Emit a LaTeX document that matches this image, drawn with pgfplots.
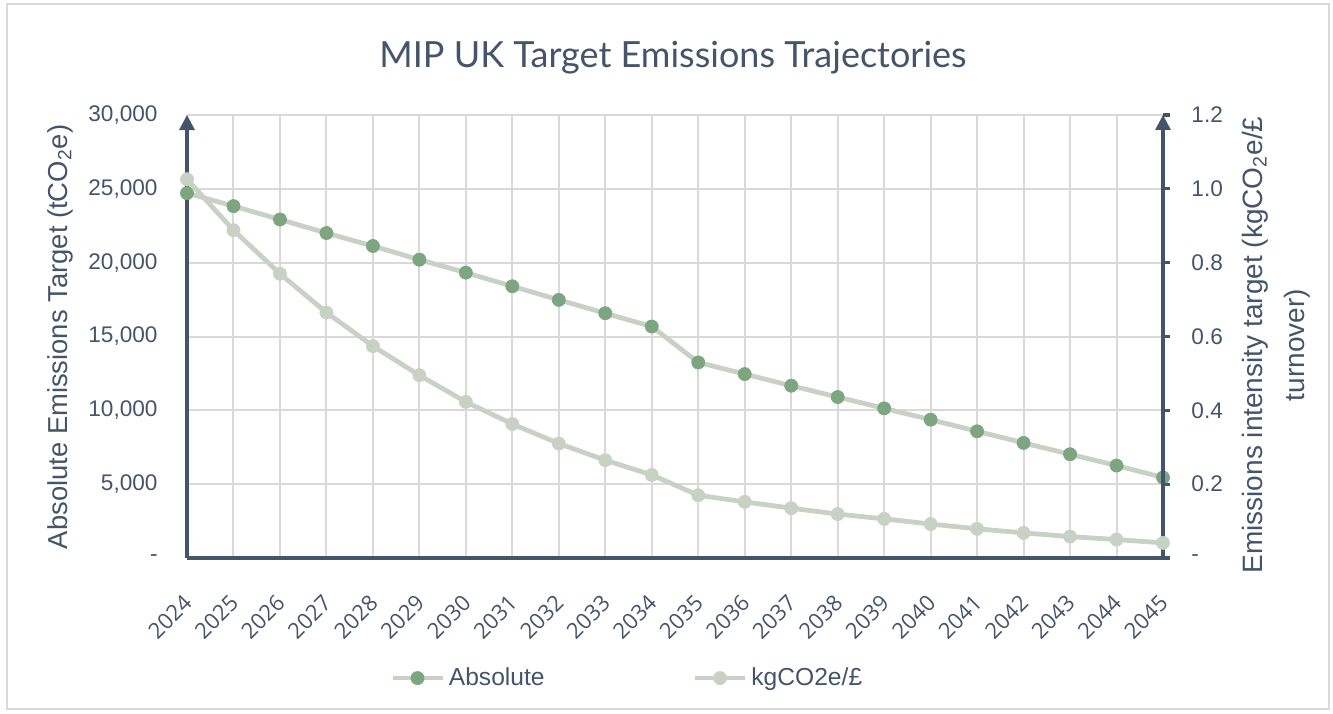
\documentclass[border=0pt]{standalone}
\usepackage{fontspec}
\setmainfont{Liberation Sans}
\newfontfamily\xfont{Open Sans}
\newfontfamily\titlefont{Lato}
\usepackage{pgfplots}
\pgfplotsset{compat=1.18}
\usepackage{pgfplotstable}
\usetikzlibrary{arrows.meta}
\definecolor{txt}{HTML}{44546A}
\definecolor{dkg}{HTML}{7DA680}
\definecolor{ltg}{HTML}{C8D2C4}
\definecolor{grd}{HTML}{D9D9D9}

\pgfplotstableread{
x abs
0 24710
1 23830
2 22925
3 22007
4 21128
5 20203
6 19324
7 18401
8 17480
9 16576
10 15676
11 13243
12 12455
13 11667
14 10901
15 10135
16 9369
17 8581
18 7793
19 7027
20 6261
21 5450
}\absdata

\pgfplotstableread{
x kg
0 1.026
1 0.888
2 0.770
3 0.665
4 0.574
5 0.495
6 0.423
7 0.363
8 0.310
9 0.265
10 0.225
11 0.170
12 0.152
13 0.135
14 0.119
15 0.106
16 0.092
17 0.079
18 0.068
19 0.058
20 0.050
21 0.041
}\kgdata

\pgfplotsset{
  absstyle/.style={color=ltg, line width=2.4pt, line join=round, mark=*, mark size=3.3pt,
    mark options={draw=dkg, fill=dkg, line width=0.3pt}},
  kgstyle/.style={color=ltg, line width=2.4pt, line join=round, mark=*, mark size=3.3pt,
    mark options={draw=ltg, fill=ltg, line width=0.3pt}},
  common/.style={scale only axis, width=488pt, height=221.5pt,
    at={(93.5pt,77.5pt)}, anchor=south west, xmin=0, xmax=21, clip=false,
    scaled y ticks=false,
    yticklabel style={font=\fontsize{11.3}{13}\selectfont, text=txt}},
}

\begin{document}
\begin{tikzpicture}
\useasboundingbox (0,0) rectangle (666.5pt,356.5pt);
\draw[grd, line width=0.75pt] (3.5pt,2pt) rectangle (664.5pt,354.5pt);

\begin{axis}[common,
  ymin=0, ymax=30000,
  axis x line*=bottom, axis y line*=left,
  x axis line style={line width=1.6pt, draw=txt, -},
  y axis line style={line width=1.6pt, draw=txt, -{Triangle[width=7.5pt,length=7.5pt]}},
  xtick={0,...,21},
  xticklabels={2024,2025,2026,2027,2028,2029,2030,2031,2032,2033,2034,2035,2036,2037,2038,2039,2040,2041,2042,2043,2044,2045},
  xticklabel style={font=\xfont\fontsize{11}{13}\selectfont, text=txt, xshift=-2.5pt, rotate=45, anchor=north east, inner sep=1pt},
  xticklabel shift=16pt,
  ytick={0,5000,10000,15000,20000,25000,30000},
  yticklabels={-,{5,000},{10,000},{15,000},{20,000},{25,000},{30,000}},
  yticklabel style={xshift=-11.2pt},
  major tick length=0pt,
  xmajorgrids, ymajorgrids,
  grid style={grd, line width=1pt},
]
\addplot[absstyle] table[x=x, y=abs] {\absdata};
\end{axis}

\begin{axis}[common,
  ymin=0, ymax=1.2,
  axis x line=none, axis y line*=right,
  y axis line style={line width=1.6pt, draw=txt, -{Triangle[width=7.5pt,length=7.5pt]}},
  ytick={0,0.2,0.4,0.6,0.8,1.0,1.2},
  yticklabels={-,0.2,0.4,0.6,0.8,1.0,1.2},
  yticklabel style={xshift=7.2pt},
  tick align=outside, major tick length=3.5pt,
  tick style={line width=1.6pt, draw=txt},
  legend style={at={(0.452,-0.271)}, anchor=center, draw=none, fill=none,
    font=\fontsize{12.3}{14}\selectfont, text=txt,
    /tikz/every even column/.append style={column sep=72pt}},
  legend columns=2,
  legend image code/.code={\draw[mark repeat=2,mark phase=2] plot coordinates {(0pt,0pt) (12.5pt,0pt) (25pt,0pt)};},
]
\addlegendimage{absstyle}
\addlegendentry{Absolute}
\addplot[kgstyle] table[x=x, y=kg] {\kgdata};
\addlegendentry{kgCO2e/£}
\end{axis}

\node[text=txt, font=\titlefont\fontsize{18}{21}\selectfont] at (336.5pt,327.5pt) {MIP UK Target Emissions Trajectories};
\node[text=txt, rotate=90, font=\fontsize{13.7}{16}\selectfont] at (30pt,188pt) {Absolute Emissions Target (tCO\textsubscript{2}e)};
\node[text=txt, rotate=90, align=center, font=\fontsize{14}{21}\selectfont] at (638pt,184pt) {Emissions intensity target (kgCO\textsubscript{2}e/£\\turnover)};
\end{tikzpicture}
\end{document}
